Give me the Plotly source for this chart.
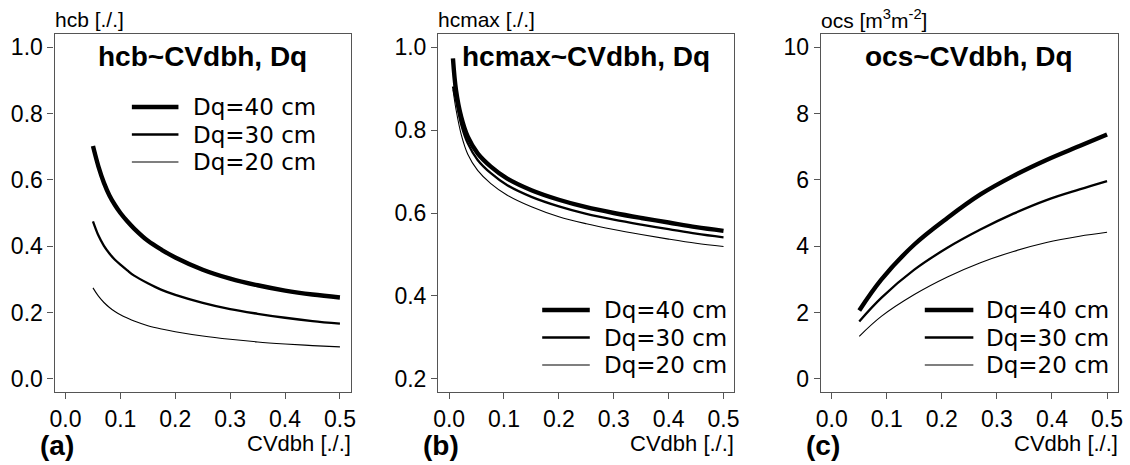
import plotly.graph_objects as go

W, H = 1130, 465

# ---------------- data ----------------
series_labels = ["Dq=40 cm", "Dq=30 cm", "Dq=20 cm"]
line_widths = [4.4, 2.3, 1.1]

# (a) hcb ~ CVdbh, Dq
a_x = [0.05, 0.06, 0.07, 0.08, 0.09, 0.10, 0.1125, 0.125, 0.15, 0.175,
       0.20, 0.25, 0.30, 0.35, 0.40, 0.45, 0.50]
a_d40 = [0.702, 0.640, 0.591, 0.553, 0.524, 0.500, 0.475, 0.453, 0.416, 0.389,
         0.366, 0.329, 0.302, 0.282, 0.266, 0.254, 0.245]
a_d30 = [0.475, 0.432, 0.401, 0.378, 0.359, 0.344, 0.327, 0.311, 0.288, 0.268,
         0.253, 0.229, 0.210, 0.196, 0.184, 0.174, 0.166]
a_d20 = [0.274, 0.249, 0.230, 0.215, 0.203, 0.193, 0.183, 0.174, 0.160, 0.150,
         0.142, 0.129, 0.119, 0.111, 0.105, 0.100, 0.096]

# (b) hcmax ~ CVdbh, Dq
b_x = [0.007, 0.0126, 0.022, 0.034, 0.052, 0.076, 0.106, 0.15, 0.20, 0.25, 0.30, 0.35, 0.40, 0.45, 0.50]
b_d40 = [0.973, 0.896, 0.832, 0.784, 0.744, 0.712, 0.683, 0.655, 0.632, 0.614, 0.600, 0.588, 0.577, 0.566, 0.557]
b_d30 = [0.905, 0.872, 0.814, 0.768, 0.728, 0.696, 0.667, 0.639, 0.616, 0.598, 0.584, 0.572, 0.561, 0.550, 0.541]
b_d20 = [0.898, 0.850, 0.790, 0.742, 0.703, 0.671, 0.643, 0.615, 0.591, 0.574, 0.560, 0.548, 0.537, 0.527, 0.519]

# (c) ocs ~ CVdbh, Dq
c_x = [0.05, 0.09, 0.15, 0.21, 0.27, 0.33, 0.39, 0.45, 0.50]
c_d40 = [2.06, 2.99, 4.05, 4.85, 5.56, 6.12, 6.60, 7.02, 7.37]
c_d30 = [1.73, 2.44, 3.29, 3.95, 4.50, 4.98, 5.39, 5.71, 5.96]
c_d20 = [1.28, 1.88, 2.54, 3.07, 3.50, 3.84, 4.11, 4.30, 4.42]

panel_titles = ["hcb~CVdbh, Dq", "hcmax~CVdbh, Dq", "ocs~CVdbh, Dq"]
y_titles = ["hcb [./.]", "hcmax [./.]", "ocs [m<sup>3</sup>m<sup>-2</sup>]"]
x_title = "CVdbh [./.]"
panel_tags = ["(a)", "(b)", "(c)"]

x_ticks = [0.0, 0.1, 0.2, 0.3, 0.4, 0.5]
x_ticktext = ["0.0", "0.1", "0.2", "0.3", "0.4", "0.5"]
a_yticks = [0.0, 0.2, 0.4, 0.6, 0.8, 1.0]
a_yticktext = ["0.0", "0.2", "0.4", "0.6", "0.8", "1.0"]
b_yticks = [0.2, 0.4, 0.6, 0.8, 1.0]
b_yticktext = ["0.2", "0.4", "0.6", "0.8", "1.0"]
c_yticks = [0, 2, 4, 6, 8, 10]
c_yticktext = ["0", "2", "4", "6", "8", "10"]

# ---------------- layout geometry (pixels) ----------------
px_left = [50, 437, 823]
px_right = [349, 736, 1123]
px_top, px_bottom = 34, 392
y_ranges = [[-0.04, 1.04], [0.168, 1.032], [-0.4, 10.4]]
x_range = [-0.02, 0.52]

# legend placement: (sample left, sample right, text left, first row y)
legend_geo = [(128, 175, 188, 107), (542, 590, 602, 310), (928, 977, 988, 310)]
legend_row = 27.5

ARIAL = "Liberation Sans, Arial, sans-serif"
TICKFONT = dict(family=ARIAL, size=23, color="black")
LEGFONT = dict(family="DejaVu Sans, Verdana, sans-serif", size=23, color="black")
AXCOL = "#555555"

fig = go.Figure()

panels = [
    (a_x, [a_d40, a_d30, a_d20], a_yticks, a_yticktext),
    (b_x, [b_d40, b_d30, b_d20], b_yticks, b_yticktext),
    (c_x, [c_d40, c_d30, c_d20], c_yticks, c_yticktext),
]

for i, (xs, ys_list, yt, ytt) in enumerate(panels):
    n = "" if i == 0 else str(i + 1)
    for lab, ys, lw in zip(series_labels, ys_list, line_widths):
        fig.add_trace(go.Scatter(
            x=xs, y=ys, mode="lines", name=lab, showlegend=False,
            line=dict(color="black", width=lw, shape="spline", smoothing=1.0),
            xaxis="x" + n, yaxis="y" + n, hoverinfo="skip",
        ))
    dom_x = [px_left[i] / W, px_right[i] / W]
    dom_y = [(H - px_bottom) / H, (H - px_top) / H]
    fig.layout["xaxis" + n] = dict(
        domain=dom_x, range=x_range, anchor="y" + n,
        tickvals=x_ticks, ticktext=x_ticktext, ticks="outside", ticklen=6,
        tickcolor=AXCOL, tickfont=TICKFONT, ticklabelstandoff=0,
        showgrid=False, zeroline=False,
        showline=True, linecolor=AXCOL, linewidth=1.2, mirror=True,
    )
    fig.layout["yaxis" + n] = dict(
        domain=dom_y, range=y_ranges[i], anchor="x" + n,
        tickvals=yt, ticktext=ytt, ticks="outside", ticklen=6,
        tickcolor=AXCOL, tickfont=TICKFONT, showgrid=False, zeroline=False,
        showline=True, linecolor=AXCOL, linewidth=1.2, mirror=True,
    )

    # legend (key lines + labels)
    s0, s1, tx, ry = legend_geo[i]
    for k, (lab, lw) in enumerate(zip(series_labels, line_widths)):
        yy = 1 - (ry + k * legend_row) / H
        fig.add_shape(type="line", xref="paper", yref="paper",
                      x0=s0 / W, x1=s1 / W, y0=yy, y1=yy,
                      line=dict(color="black", width=lw))
        fig.add_annotation(x=tx / W, y=yy, xref="paper", yref="paper",
                           text=lab, showarrow=False, xanchor="left", yanchor="middle",
                           font=LEGFONT)

    cx = (px_left[i] + px_right[i]) / 2
    # panel title
    fig.add_annotation(x=cx / W, y=1 - 57 / H, xref="paper", yref="paper",
                       text="<b>%s</b>" % panel_titles[i], showarrow=False,
                       xanchor="center", yanchor="middle",
                       font=dict(family=ARIAL, size=28, color="black"))
    # y axis title (top-left)
    fig.add_annotation(x=(px_left[i] - 2) / W, y=1 - 19 / H, xref="paper", yref="paper",
                       text=y_titles[i], showarrow=False, xanchor="left", yanchor="middle",
                       font=dict(family=ARIAL, size=21, color="black"))
    # x axis title (bottom-right)
    fig.add_annotation(x=(px_right[i] + 2) / W, y=1 - 443 / H, xref="paper", yref="paper",
                       text=x_title, showarrow=False, xanchor="right", yanchor="middle",
                       font=dict(family=ARIAL, size=22, color="black"))
    # panel tag
    fig.add_annotation(x=(px_left[i] - 17) / W, y=1 - 445 / H, xref="paper", yref="paper",
                       text="<b>%s</b>" % panel_tags[i], showarrow=False, xanchor="left", yanchor="middle",
                       font=dict(family=ARIAL, size=28, color="black"))

fig.update_layout(
    width=W, height=H, margin=dict(l=0, r=0, t=0, b=0),
    paper_bgcolor="white", plot_bgcolor="white", showlegend=False,
)

fig.write_html("out.html", config={"displayModeBar": False})
